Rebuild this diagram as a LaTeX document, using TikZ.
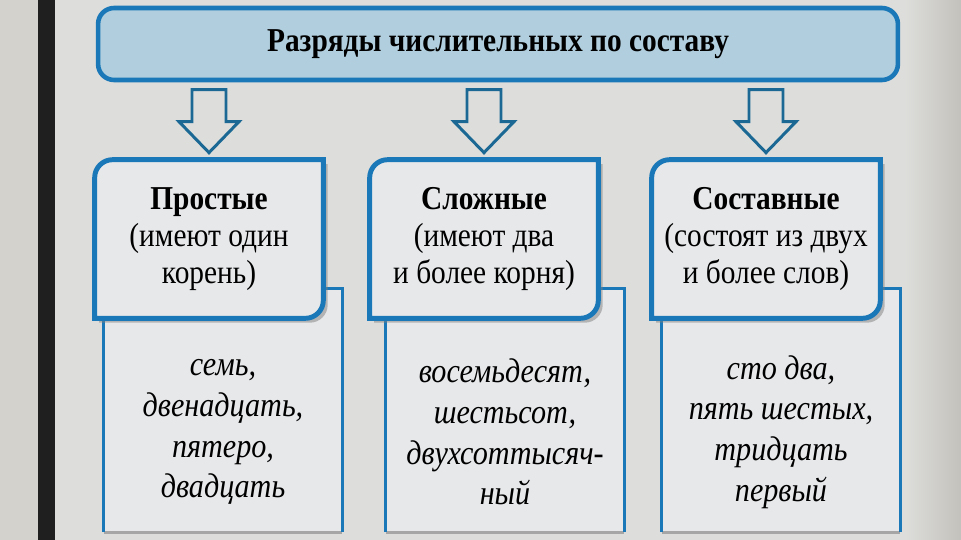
\documentclass[tikz,border=0pt]{standalone}
\usepackage{fontspec}
\setmainfont[FakeStretch=0.88]{Liberation Serif}
\usetikzlibrary{calc,backgrounds,shadows}

\definecolor{bgcol}{RGB}{221,221,219}
\definecolor{sidecol}{RGB}{212,210,204}
\definecolor{boxfill}{RGB}{231,232,234}
\definecolor{bannerfill}{RGB}{176,206,221}
\definecolor{mainblue}{RGB}{26,120,184}
\definecolor{arrowblue}{RGB}{28,104,148}

\begin{document}
\begin{tikzpicture}[x=0.02cm, y=-0.02cm,
  banner/.style={draw=mainblue, line width=2.6pt, fill=bannerfill, rounded corners=0.32cm,
    minimum width=16cm, minimum height=1.44cm, font=\fontsize{19}{21}\selectfont\bfseries},
  head/.style={minimum width=4.56cm, minimum height=3.16cm, align=center, inner sep=0pt,
    font=\fontsize{19}{21}\selectfont},
  headbox/.style={draw=mainblue, line width=2.8pt, fill=boxfill,
    drop shadow={shadow xshift=2.5pt, shadow yshift=-2.5pt, opacity=0.5}},
  exbox/.style={minimum width=4.76cm, minimum height=4.28cm, inner sep=0pt},
  extext/.style={align=center, inner sep=0pt, font=\fontsize{19.5}{23.2}\selectfont\itshape},
  exline/.style={draw=mainblue, line width=1.9pt},
  exshade/.style={draw=black!35, line width=2pt},
  downarrow/.style={draw=arrowblue, line width=1.7pt, fill=bgcol, line join=miter}
]
\useasboundingbox (0,0) rectangle (961,540);

% title and the three kinds
\node[banner] (title) at (498,44) {Разряды числительных по составу};
\node[head] (simple) at (209,239) {\textbf{Простые}\\(имеют один\\корень)};
\node[head] (complex) at (484,239) {\textbf{Сложные}\\(имеют два\\и более корня)};
\node[head] (compound) at (766,239) {\textbf{Составные}\\(состоят из двух\\и более слов)};

% examples
\node[exbox] (exsimple) at (223,425) {};
\node[exbox] (excomplex) at (505,425) {};
\node[exbox] (excompound) at (781,425) {};
\node[extext] (simplewords) at (223,432) {семь,\\двенадцать,\\пятеро,\\двадцать};
\node[extext] (complexwords) at (505,432) {восемьдесят,\\шестьсот,\\двухсоттысяч-\\ный};
\node[extext] (compoundwords) at (781,432) {сто два,\\пять шестых,\\тридцать\\первый};

% hollow arrows
\foreach \h in {simple,complex,compound}
  \draw[downarrow, shift={(\h.north)}] (-17,-70) -- (17,-70) -- (17,-38) -- (30,-38)
    -- (0,-7) -- (-30,-38) -- (-17,-38) -- cycle;

\begin{scope}[on background layer]
  \fill[bgcol] (0,0) rectangle (961,540);
  \fill[sidecol] (0,0) rectangle (38,540);
  \fill[black!88] (38,0) rectangle (55,540);
  \shade[left color=bgcol, right color=sidecol!92!black] (905,0) rectangle (961,540);
  % example boxes, partly hidden by the heads
  \foreach \e/\h in {exsimple/simple,excomplex/complex,excompound/compound} {
    \coordinate (\e top) at ($(\e.north east)+(0,-29)$);
    \fill[boxfill] ($(\e.north west)+(0,-29)$) rectangle (\e.south east);
    \draw[exshade] (\e.south west) -- (\e.south east);
    \draw[exline] (\e.north west) -- (\e.south west);
    \draw[exline] (\h.east |- \e top) -- (\e top) -- (\e.south east);
  }
  % heads with two rounded corners
  \foreach \h in {simple,complex,compound}
    \draw[headbox] (\h.south west) -- ($(\h.north west)+(0,18)$)
      arc[start angle=180, end angle=90, radius=0.36cm] -- (\h.north east)
      -- ($(\h.south east)+(0,-18)$) arc[start angle=0, end angle=-90, radius=0.36cm] -- cycle;
\end{scope}
\end{tikzpicture}
\end{document}
